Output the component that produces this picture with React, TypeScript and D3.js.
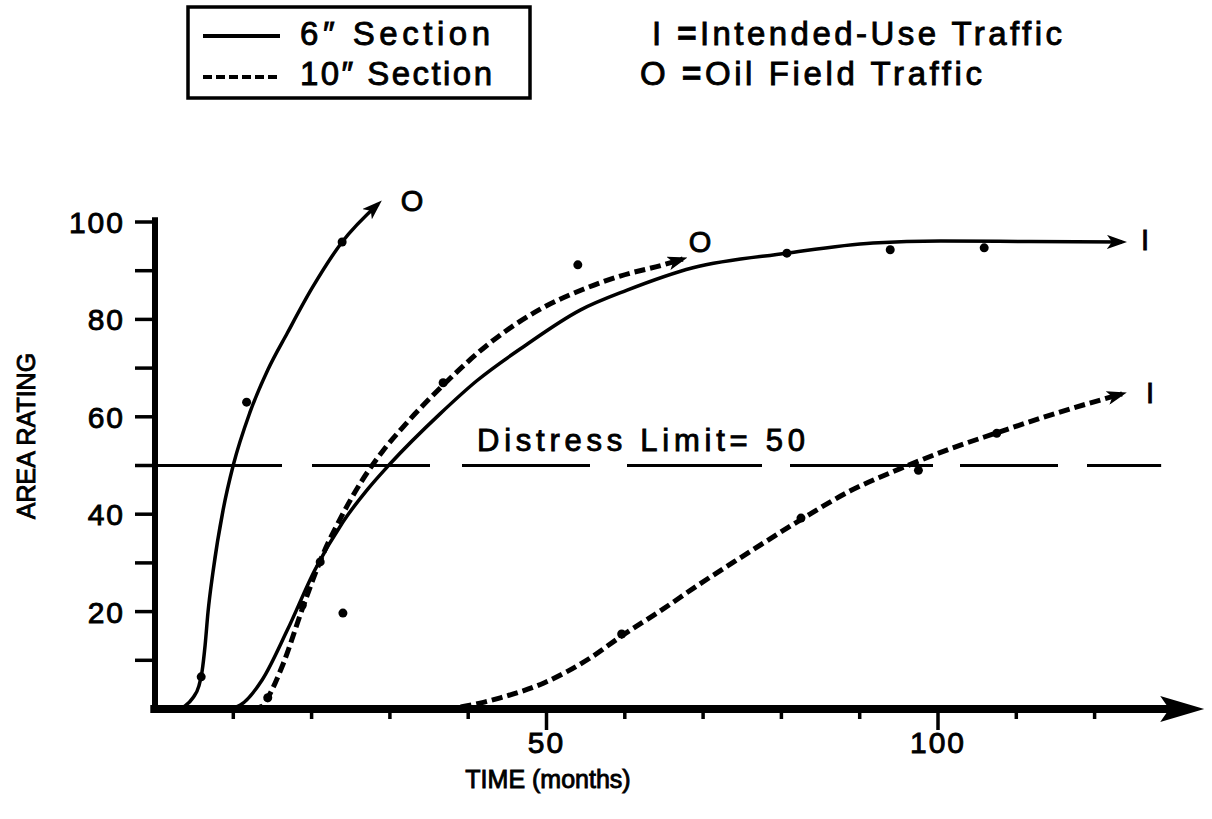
import React, { useEffect, useRef } from 'react';
import * as d3 from 'd3';

// time (months) vs area rating
const sixOil = [[2.7, 0], [3.8, 0.6], [4.85, 2.3], [5.6, 4.7], [6, 7.6], [6.4, 13.1], [6.77, 19.9], [7.4, 28.1], [8.7, 40.9], [10, 50.1], [12.1, 60.8], [14.4, 69.6], [16.9, 77.2], [20.05, 86.4], [23.9, 95.9], [28.5, 103.7]];
const sixIntended = [[9.5, 0], [10.9, 0.8], [13.7, 6], [16.9, 16.2], [20.4, 28.5], [24, 38.4], [27.2, 45.2], [30, 50.3], [36.4, 60.6], [41.1, 67.4], [47.25, 74.6], [54.3, 81.9], [60.3, 86], [68.7, 90.6], [80.7, 93.6], [91.7, 95.7], [100.3, 96.1], [111.7, 96], [123.5, 95.9]];
const tenOil = [[12.5, 0], [13.7, 0.6], [14.4, 2.3], [16.35, 9.2], [18.8, 20.5], [21.3, 31.2], [23.9, 39.8], [26.4, 46.8], [29.1, 53], [31.9, 58.3], [36.8, 66.5], [42.8, 75.2], [49.2, 82.1], [54.7, 86.2], [59.4, 88.9], [64.9, 91.2], [67.4, 92.4]];
const tenIntended = [[37, 0], [39, 0.4], [41.5, 1.2], [44.1, 2.3], [49.6, 5.3], [55.6, 10.5], [59.6, 15], [64.5, 20.1], [69.6, 25.7], [75.1, 31.4], [82.4, 38.8], [88.8, 44.8], [95.1, 49.3], [101.5, 53.4], [107.5, 56.7], [115.2, 60.8], [123.5, 64.7]];
const observed = [[5.9, 6.6], [11.7, 63], [23.9, 95.9], [14.4, 2.3], [18.8, 21.3], [21.1, 30.2], [24, 19.7], [36.8, 67], [54, 91.2], [80.7, 93.6], [93.9, 94.3], [105.9, 94.7], [59.6, 15.4], [82.5, 39.2], [97.5, 49], [107.5, 56.6]];

const xTicks = [10, 20, 30, 40, 50, 60, 70, 80, 90, 100, 110, 120];
const xLabels = [50, 100];
const yTicks = [10, 20, 30, 40, 50, 60, 70, 80, 90, 100];
const yLabels = [20, 40, 60, 80, 100];
const distressLimit = 50;
const keyRows = [
    { mark: 'I', text: 'Intended-Use Traffic' },
    { mark: 'O', text: 'Oil Field Traffic' },
];

const FONT = '"Liberation Sans", Arial, Helvetica, sans-serif';

const App = () => {
    const svgRef = useRef(null);

    useEffect(() => {
        drawChart();
    }, []);

    const drawChart = () => {
        const svg = d3.select(svgRef.current);
        svg.selectAll('*').remove();

        const x = d3.scaleLinear().domain([0, 100]).range([155, 938]);
        const y = d3.scaleLinear().domain([0, 100]).range([709, 222]);

        const defs = svg.append('defs');
        defs.append('marker')
            .attr('id', 'head')
            .attr('markerUnits', 'userSpaceOnUse')
            .attr('viewBox', '0 0 20 14')
            .attr('markerWidth', 20)
            .attr('markerHeight', 14)
            .attr('refX', 15)
            .attr('refY', 7)
            .attr('orient', 'auto')
            .append('path')
            .attr('d', 'M0,0 L20,7 L0,14 L5,7 Z')
            .attr('fill', '#000');

        const txt = (s, tx, ty, size, len, anchor = 'start') => {
            const t = svg.append('text')
                .attr('x', tx)
                .attr('y', ty)
                .attr('font-family', FONT)
                .attr('font-size', size)
                .attr('text-anchor', anchor)
                .attr('fill', '#000')
                .attr('stroke', '#000')
                .attr('stroke-width', 0.9)
                .text(s);
            if (len) t.attr('textLength', len).attr('lengthAdjust', 'spacing');
            return t;
        };

        // legend box
        svg.append('rect')
            .attr('x', 188).attr('y', 7).attr('width', 342).attr('height', 91)
            .attr('fill', 'none').attr('stroke', '#000').attr('stroke-width', 3.5);
        svg.append('line').attr('x1', 203).attr('x2', 280).attr('y1', 36).attr('y2', 36)
            .attr('stroke', '#000').attr('stroke-width', 4);
        svg.append('line').attr('x1', 203).attr('x2', 280).attr('y1', 77).attr('y2', 77)
            .attr('stroke', '#000').attr('stroke-width', 4).attr('stroke-dasharray', '9 4');
        txt('6\u2033 Section', 300, 45, 33, 190);
        txt('10\u2033 Section', 300, 85, 33, 192);

        // traffic key
        const keyX = [652, 640];
        const keyLen = [410, 342];
        keyRows.forEach((r, i) => {
            const t = txt('', keyX[i], 45 + i * 40, 33, keyLen[i]);
            t.append('tspan').text(r.mark + ' ');
            t.append('tspan').attr('font-weight', 'bold').text('=');
            t.append('tspan').text(r.text);
        });

        // distress limit, long dashes of uneven length as drawn
        svg.append('line')
            .attr('x1', x(0)).attr('x2', x(128.5))
            .attr('y1', y(distressLimit)).attr('y2', y(distressLimit))
            .attr('stroke', '#000').attr('stroke-width', 3)
            .attr('stroke-dasharray', '127 30 118 32 128 37 135 28 143 27 98 29 80 60');
        txt(`Distress Limit= ${distressLimit}`, 477, 451, 31, 328);

        // y axis
        svg.append('line')
            .attr('x1', x(0)).attr('x2', x(0))
            .attr('y1', y(101)).attr('y2', y(-0.8))
            .attr('stroke', '#000').attr('stroke-width', 6);
        svg.selectAll('.ytick').data(yTicks).enter().append('line')
            .attr('x1', x(0) - 20).attr('x2', x(0))
            .attr('y1', d => y(d)).attr('y2', d => y(d))
            .attr('stroke', '#000').attr('stroke-width', 3.5);
        yLabels.forEach(v => txt(String(v), 125, y(v) + 11, 30, null, 'end').attr('letter-spacing', 2));

        // x axis with arrow
        const xEnd = x(134);
        svg.append('line')
            .attr('x1', x(-0.6)).attr('x2', xEnd - 30)
            .attr('y1', y(0)).attr('y2', y(0))
            .attr('stroke', '#000').attr('stroke-width', 8);
        svg.append('path')
            .attr('d', `M${xEnd},${y(0)} L${xEnd - 44},${y(0) - 13} L${xEnd - 35},${y(0)} L${xEnd - 44},${y(0) + 13} Z`)
            .attr('fill', '#000');
        svg.selectAll('.xtick').data(xTicks).enter().append('line')
            .attr('x1', d => x(d)).attr('x2', d => x(d))
            .attr('y1', y(0)).attr('y2', d => y(0) + (xLabels.includes(d) ? 21 : 10))
            .attr('stroke', '#000').attr('stroke-width', 3.5);
        xLabels.forEach(v => txt(String(v), x(v), 753, 30, null, 'middle').attr('letter-spacing', 2));

        txt('TIME (months)', 548, 788, 25, null, 'middle');
        txt('AREA RATING', 0, 0, 25, null, 'middle')
            .attr('transform', 'translate(35,436) rotate(-90)');

        // curves
        const line = d3.line()
            .x(d => x(d[0]))
            .y(d => y(d[1]))
            .curve(d3.curveMonotoneX);

        const curves = [
            { data: sixOil, dash: null, w: 3.5 },
            { data: sixIntended, dash: null, w: 3.5 },
            { data: tenOil, dash: '11 5', w: 5 },
            { data: tenIntended, dash: '11 5', w: 5 },
        ];
        curves.forEach(c => {
            svg.append('path')
                .datum(c.data)
                .attr('d', line)
                .attr('fill', 'none')
                .attr('stroke', '#000')
                .attr('stroke-width', c.w)
                .attr('stroke-dasharray', c.dash)
                .attr('marker-end', 'url(#head)');
        });

        svg.selectAll('.dot').data(observed).enter().append('circle')
            .attr('cx', d => x(d[0]))
            .attr('cy', d => y(d[1]))
            .attr('r', 4.5)
            .attr('fill', '#000');

        // end labels
        txt('O', 412, 211, 29, null, 'middle');
        txt('O', 700, 252, 29, null, 'middle');
        txt('I', 1145, 250, 29, null, 'middle');
        txt('I', 1150, 403, 29, null, 'middle');
    };

    return (
        <svg ref={svgRef} width={1212} height={819}
            style={{ position: 'absolute', left: 0, top: 0, background: '#fff' }} />
    );
};

export default App;
